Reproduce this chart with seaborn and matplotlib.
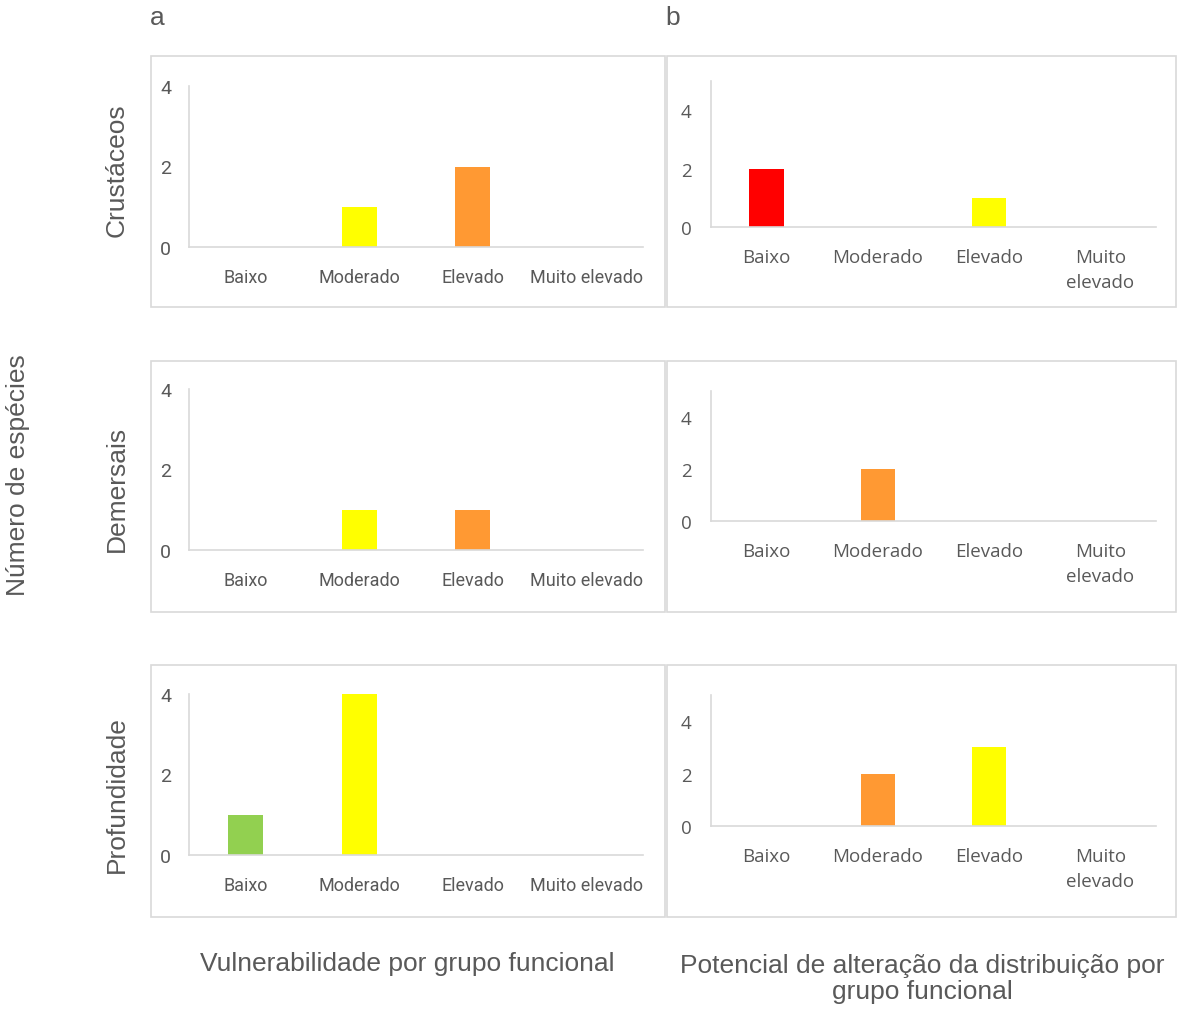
import matplotlib
matplotlib.use("Agg")
import matplotlib.pyplot as plt
import seaborn as sns
import pandas as pd
from matplotlib import font_manager
from matplotlib.patches import Rectangle

# data
levels = ["Baixo", "Moderado", "Elevado", "Muito elevado"]
levels_b = ["Baixo", "Moderado", "Elevado", "Muito\nelevado"]
groups = ["Crustáceos", "Demersais", "Profundidade"]

# a: vulnerabilidade
vul_crustaceos = [0, 1, 2, 0]
vul_demersais = [0, 1, 1, 0]
vul_profundidade = [1, 4, 0, 0]

# b: potencial de alteração da distribuição
dist_crustaceos = [2, 0, 1, 0]
dist_demersais = [0, 2, 0, 0]
dist_profundidade = [0, 2, 3, 0]

GREEN = "#92D050"
YELLOW = "#FFFF00"
ORANGE = "#FF9933"
RED = "#FF0000"

vul_colors = [GREEN, YELLOW, ORANGE, RED]
dist_colors = [RED, ORANGE, YELLOW, GREEN]

sns.set_style("white")
plt.rcParams["font.family"] = ["Liberation Sans", "DejaVu Sans"]

names = {f.name for f in font_manager.fontManager.ttflist}
narrow = "Liberation Sans Narrow" if "Liberation Sans Narrow" in names else "Roboto"
narrow_size = 15 if narrow == "Liberation Sans Narrow" else 13
roundish = "Open Sans" if "Open Sans" in names else "Lato"

TXT = "#595959"
GRID = "#D9D9D9"

fig = plt.figure(figsize=(11.81, 10.12), dpi=100)
W, H = 1181, 1012


def fx(px):
    return px / W


def fy(py):
    return 1 - py / H


# panel frames
for x0, x1 in [(151, 665), (667, 1176)]:
    for y0, y1 in [(57, 308), (362, 613), (666, 918)]:
        fig.patches.append(Rectangle((fx(x0), fy(y1)), fx(x1) - fx(x0), fy(y0) - fy(y1),
                                     transform=fig.transFigure, fill=False,
                                     edgecolor=GRID, linewidth=1.2))

# axes boxes in pixel coords: (left, top, right, bottom)
left_boxes = [(189, 87, 643, 248), (189, 390, 643, 551), (189, 695, 643, 856)]
right_boxes = [(711, 82, 1156, 228), (711, 392, 1156, 522), (711, 696, 1156, 827)]

vul_vals = [vul_crustaceos, vul_demersais, vul_profundidade]
dist_vals = [dist_crustaceos, dist_demersais, dist_profundidade]


def draw(box, vals, cols, labels, ymax, tick_font, xsize, ysize, show_ticks, ypad):
    l, t, r, b = box
    ax = fig.add_axes([fx(l), fy(b), fx(r) - fx(l), fy(t) - fy(b)])
    df = pd.DataFrame({"nivel": levels, "n": vals})
    sns.barplot(data=df, x="nivel", y="n", hue="nivel", palette=dict(zip(levels, cols)),
                dodge=False, width=0.31, linewidth=0, saturation=1, legend=False, ax=ax)
    ax.set_xlim(-0.5, 3.5)
    ax.set_ylim(0, ymax)
    ax.set_yticks([0, 2, 4])
    ax.set_xticks(range(4))
    ax.set_xticklabels(labels, fontfamily=tick_font, fontsize=xsize, color=TXT,
                       linespacing=1.5)
    ax.set_yticklabels(["0", "2", "4"], fontfamily=tick_font, fontsize=ysize, color=TXT)
    ax.set_xlabel("")
    ax.set_ylabel("")
    for s in ["top", "right"]:
        ax.spines[s].set_visible(False)
    for s in ["left", "bottom"]:
        ax.spines[s].set_color(GRID)
        ax.spines[s].set_linewidth(1.2)
    ax.tick_params(axis="both", which="major", length=0)
    ax.tick_params(axis="x", which="major", pad=15)
    ax.tick_params(axis="y", which="major", pad=ypad)
    if show_ticks:
        ax.set_xticks([-0.5, 0.5, 1.5, 2.5, 3.5], minor=True)
        ax.tick_params(axis="x", which="minor", length=6, color=GRID, width=1.2)
    ax.set_facecolor("none")
    return ax


for i in range(3):
    draw(left_boxes[i], vul_vals[i], vul_colors, levels, 4, narrow, narrow_size, 14,
         i == 0, 13)
    draw(right_boxes[i], dist_vals[i], dist_colors, levels_b, 5, roundish, 13.5, 13.5,
         True, 14)

# row labels
for g, yc in zip(groups, [170, 489, 795]):
    fig.text(fx(117), fy(yc), g, rotation=90, ha="center", va="center",
             fontsize=19, color=TXT)

fig.text(fx(18), fy(475), "Número de espécies", rotation=90, ha="center", va="center",
         fontsize=19, color=TXT)

fig.text(fx(150), fy(18), "a", ha="left", va="center", fontsize=19, color=TXT)
fig.text(fx(665), fy(18), "b", ha="left", va="center", fontsize=19, color=TXT)

fig.text(fx(407), fy(964), "Vulnerabilidade por grupo funcional", ha="center", va="center",
         fontsize=19, color=TXT)
fig.text(fx(922), fy(979), "Potencial de alteração da distribuição por\ngrupo funcional",
         ha="center", va="center", fontsize=19, color=TXT, linespacing=1.1)

fig.savefig("out.png", dpi=100, facecolor="white")
